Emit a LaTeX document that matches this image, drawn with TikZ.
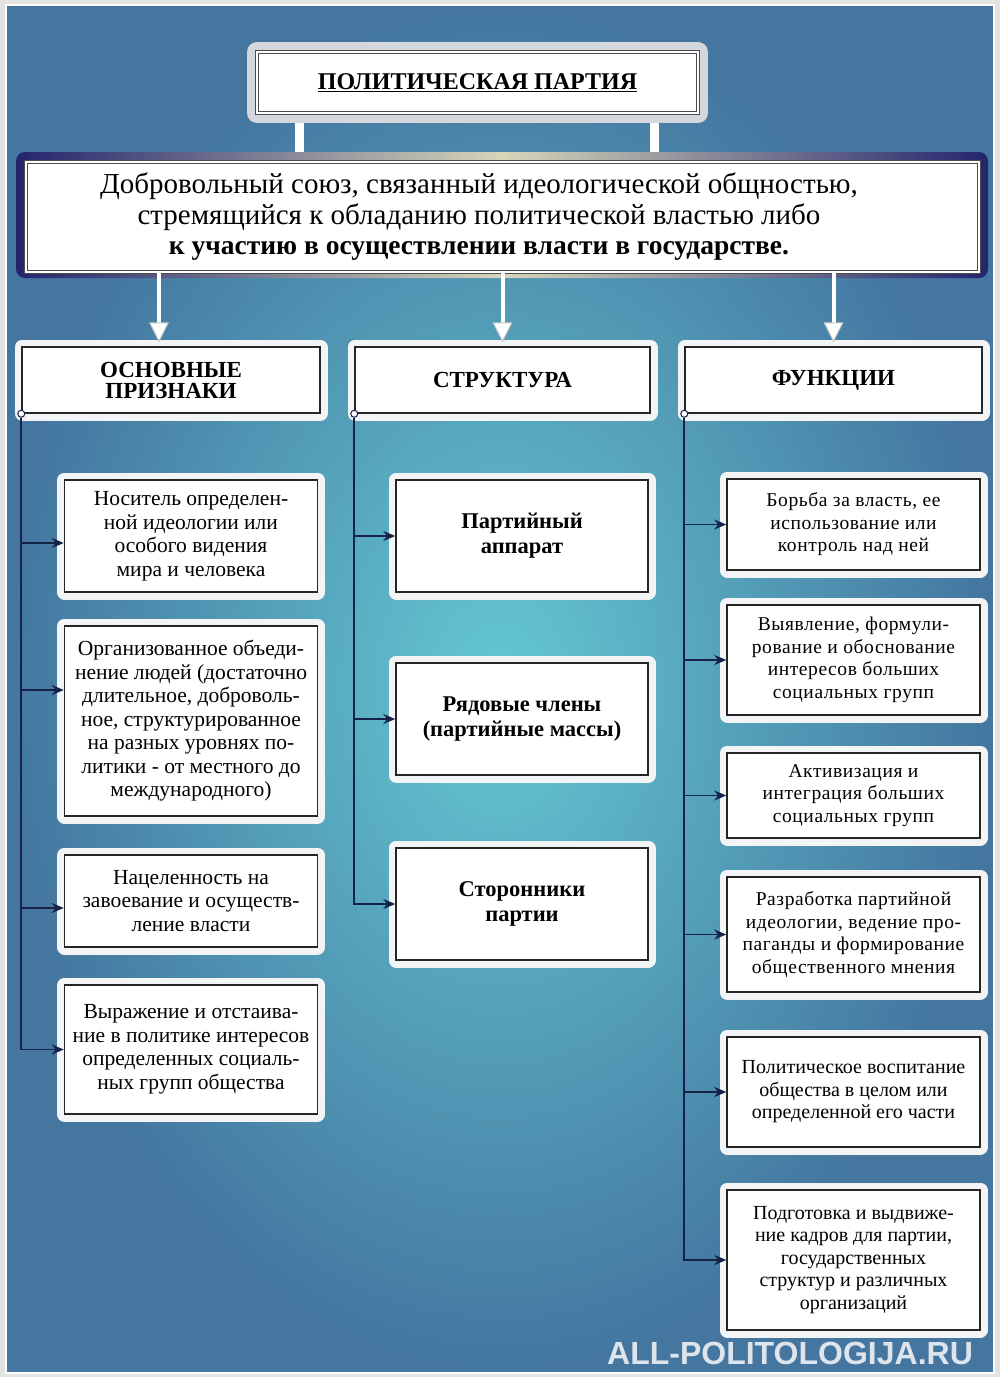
\documentclass[tikz,border=0pt]{standalone}
\usepackage{fontspec}
\setmainfont{Liberation Serif}
\newfontfamily\sitefont{Liberation Sans}
\usetikzlibrary{arrows.meta}

\definecolor{bgout}{RGB}{68,118,160}
\definecolor{bgin}{RGB}{100,200,210}
\definecolor{navyframe}{RGB}{36,36,110}
\definecolor{paleband}{RGB}{214,214,186}
\definecolor{boxframe}{RGB}{243,244,246}
\definecolor{signgray}{RGB}{212,215,220}
\definecolor{linkcol}{RGB}{22,34,72}
\definecolor{sitegray}{RGB}{222,228,236}

\begin{document}
\begin{tikzpicture}[x=1pt, y=-1pt,
  card/.style={draw=black!85, line width=1.5pt, fill=white, align=center,
    inner sep=2pt, preaction={draw=boxframe, line width=15pt, line join=round}},
  head/.style={card, minimum height=66pt, font=\fontsize{23}{21}\selectfont\bfseries},
  trait/.style={card, minimum width=253pt, font=\fontsize{21.5}{23.5}\selectfont},
  part/.style={card, minimum width=252pt, minimum height=112pt,
    font=\fontsize{22.5}{25}\selectfont\bfseries},
  func/.style={card, minimum width=253pt, font=\fontsize{20}{22.5}\selectfont},
  wide/.style={font=\fontsize{19.5}{22.5}\selectfont\addfontfeatures{LetterSpace=3}},
  link/.style={draw=linkcol, line width=1.6pt, -{Stealth[length=12pt,width=10pt]}},
  root/.style={circle, draw=linkcol, fill=white, line width=1pt, inner sep=0pt,
    minimum size=7pt},
  down/.style={draw=white, line width=4pt, shorten >=4pt,
    -{Triangle[length=20pt,width=20pt,fill=white,color=gray!45,line width=1pt]}},
  framed/.style={fill=white, draw=black!70, line width=.7pt, double=white,
    double distance=2pt}
]

  \newcommand\XA{191}
  \newcommand\XB{522}
  \newcommand\XC{853.5}

  % page and background
  \fill[gray!22] (0,0) rectangle (1000,1377);
  \shade[inner color=bgin, outer color=bgout] (7,6) rectangle (993,1372);
  \draw[white, line width=1.5pt] (6,5) rectangle (994,1373);

  % sign posts
  \fill[white] (295,120) rectangle (304,154);
  \fill[white] (650,120) rectangle (659,154);

  \node[framed, minimum width=441pt, minimum height=61pt,
    preaction={draw=signgray, line width=20pt, line join=round},
    font=\fontsize{24}{28}\selectfont\bfseries]
    (title) at (477.5,82.5) {\underline{ПОЛИТИЧЕСКАЯ ПАРТИЯ}};

  \shade[rounded corners=9pt, left color=navyframe, right color=navyframe,
    middle color=paleband] (16,152) rectangle (988,278);
  \node[framed, minimum width=953pt, minimum height=110pt] (defn) at (502.5,217) {};
  \node[align=center, font=\fontsize{29}{30.5}\selectfont] (deftxt) at (479,217)
    {Добровольный союз, связанный идеологической общностью,\\
     стремящийся к обладанию политической властью либо\\
     \fontsize{27.5}{30.5}\selectfont\textbf{к участию в осуществлении власти в государстве.}};

  % column heads
  \node[head, minimum width=298pt] (hpri) at (171,380) {ОСНОВНЫЕ\\ПРИЗНАКИ};
  \node[head, minimum width=295pt] (hstr) at (502.5,380) {СТРУКТУРА};
  \node[head, minimum width=297pt] (hfun) at (833.5,380) {ФУНКЦИИ};

  \draw[down] ([xshift=-12pt]defn.south -| hpri.north) -- ([xshift=-12pt]hpri.north);
  \draw[down] (defn.south -| hstr.north) -- (hstr.north);
  \draw[down] (defn.south -| hfun.north) -- (hfun.north);

  % features
  \node[trait, minimum height=112pt] (p1) at (\XA,536)
    {Носитель определен-\\ной идеологии или\\особого видения\\мира и человека};
  \node[trait, minimum height=190pt] (p2) at (\XA,721)
    {Организованное объеди-\\нение людей (достаточно\\длительное, доброволь-\\ное, структурированное\\на разных уровнях по-\\литики - от местного до\\международного)};
  \node[trait, minimum height=92pt] (p3) at (\XA,901)
    {Нацеленность на\\завоевание и осуществ-\\ление власти};
  \node[trait, minimum height=129pt] (p4) at (\XA,1049.5)
    {Выражение и отстаива-\\ние в политике интересов\\определенных социаль-\\ных групп общества};

  % structure
  \node[part] (s1) at (\XB,536) {Партийный\\аппарат};
  \node[part] (s2) at (\XB,719) {Рядовые члены\\(партийные массы)};
  \node[part] (s3) at (\XB,904) {Сторонники\\партии};

  % functions
  \node[func, wide, minimum height=91pt] (f1) at (\XC,524.5)
    {Борьба за власть, ее\\использование или\\контроль над ней};
  \node[func, wide, minimum height=110pt] (f2) at (\XC,660)
    {Выявление, формули-\\рование и обоснование\\интересов больших\\социальных групп};
  \node[func, wide, minimum height=85pt] (f3) at (\XC,795.5)
    {Активизация и\\интеграция больших\\социальных групп};
  \node[func, wide, minimum height=115pt] (f4) at (\XC,934.5)
    {Разработка партийной\\идеологии, ведение про-\\паганды и формирование\\общественного мнения};
  \node[func, minimum height=110pt] (f5) at (\XC,1092)
    {Политическое воспитание\\общества в целом или\\определенной его части};
  \node[func, minimum height=140pt] (f6) at (\XC,1260)
    {Подготовка и выдвиже-\\ние кадров для партии,\\государственных\\структур и различных\\организаций};

  \node[root] (rpri) at (hpri.south west) {};
  \node[root] (rstr) at (hstr.south west) {};
  \node[root] (rfun) at (hfun.south west) {};

  \draw[link] (rpri) |- ([yshift=-7pt]p1.west);
  \draw[link] (rpri) |- ([yshift=31pt]p2.west);
  \draw[link] (rpri) |- ([yshift=-7pt]p3.west);
  \draw[link] (rpri) |- (p4.west);

  \foreach \n in {s1,s2,s3}
    \draw[link] (rstr) |- (\n.west);

  \foreach \n in {f1,f2,f3,f4,f5,f6}
    \draw[link] (rfun) |- (\n.west);

  \node[text=sitegray, font=\sitefont\fontsize{32}{34}\selectfont\bfseries]
    (site) at (790,1353) {ALL-POLITOLOGIJA.RU};

\end{tikzpicture}
\end{document}
